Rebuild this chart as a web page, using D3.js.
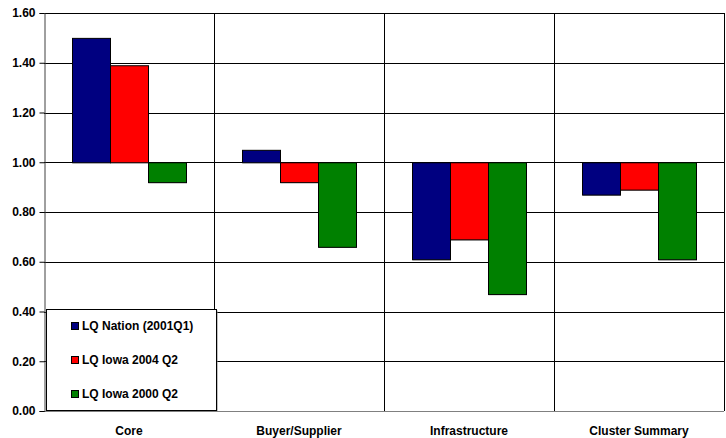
<!DOCTYPE html>
<html>
<head>
<meta charset="utf-8">
<script src="https://cdn.jsdelivr.net/npm/d3@7"></script>
<style>
  html, body { margin: 0; padding: 0; background: #fff; }
  svg text { font-family: Arial, "Liberation Sans", sans-serif; font-weight: bold; }
</style>
</head>
<body>
<svg id="chart" width="726" height="438"></svg>
<script>
// Location quotients by cluster segment
const categories = ["Core", "Buyer/Supplier", "Infrastructure", "Cluster Summary"];
const seriesNames = ["LQ Nation (2001Q1)", "LQ Iowa 2004 Q2", "LQ Iowa 2000 Q2"];
const seriesColors = ["#000080", "#FF0000", "#008000"];
const lqNation2001 = [1.50, 1.05, 0.61, 0.87];
const lqIowa2004 = [1.39, 0.92, 0.69, 0.89];
const lqIowa2000 = [0.92, 0.66, 0.47, 0.61];
const yTicks = [0, 0.2, 0.4, 0.6, 0.8, 1.0, 1.2, 1.4, 1.6];
const baseline = 1.0;

const series = [lqNation2001, lqIowa2004, lqIowa2000];

const svg = d3.select("#chart");
const plot = { left: 44, right: 724, top: 13, bottom: 411 };

const x = d3.scaleBand().domain(categories).range([plot.left, plot.right]).paddingInner(0).paddingOuter(0);
const y = d3.scaleLinear().domain([0, 1.6]).range([plot.bottom, plot.top]);
const barW = 38;
const xs = d3.scaleBand().domain(d3.range(series.length)).range([0, barW * series.length]);
const groupOffset = (x.bandwidth() - barW * series.length) / 2;

// horizontal gridlines
svg.append("g").selectAll("line").data(yTicks).join("line")
  .attr("x1", plot.left).attr("x2", plot.right)
  .attr("y1", d => Math.round(y(d)) + 0.5).attr("y2", d => Math.round(y(d)) + 0.5)
  .attr("stroke", d => d === 0 ? "#808080" : "#000").attr("stroke-width", 1);

// vertical category dividers
svg.append("g").selectAll("line").data(categories).join("line")
  .attr("x1", d => Math.round(x(d) + x.bandwidth()) + 0.5)
  .attr("x2", d => Math.round(x(d) + x.bandwidth()) + 0.5)
  .attr("y1", plot.top).attr("y2", plot.bottom)
  .attr("stroke", "#000").attr("stroke-width", 1);

// y axis
const yAxis = d3.axisLeft(y).tickValues(yTicks).tickFormat(d3.format(".2f")).tickSize(5).tickPadding(4);
const ya = svg.append("g").attr("transform", `translate(${plot.left + 0.5},0)`).call(yAxis);
ya.select(".domain").attr("stroke", "#404040");
ya.selectAll(".tick line").attr("stroke", "#000");
ya.selectAll(".tick text").attr("font-size", "12px").attr("fill", "#000")
  .style("font-family", "Arial, 'Liberation Sans', sans-serif").style("font-weight", "bold");

// bars measured from the 1.00 baseline
const bars = [];
categories.forEach((c, ci) => {
  series.forEach((s, si) => {
    bars.push({ cat: c, si, v: s[ci] });
  });
});

const barG = svg.append("g");
// soft shadow
barG.selectAll("rect.shadow").data(bars).join("rect").attr("class", "shadow")
  .attr("x", d => x(d.cat) + groupOffset + xs(d.si) + 1)
  .attr("y", d => Math.min(y(d.v), y(baseline)) + 1)
  .attr("width", barW)
  .attr("height", d => Math.abs(y(d.v) - y(baseline)))
  .attr("fill", "#9a9a9a");
barG.selectAll("rect.bar").data(bars).join("rect").attr("class", "bar")
  .attr("x", d => x(d.cat) + groupOffset + xs(d.si) + 0.5)
  .attr("y", d => Math.min(y(d.v), y(baseline)) + 0.5)
  .attr("width", barW)
  .attr("height", d => Math.abs(y(d.v) - y(baseline)))
  .attr("fill", d => seriesColors[d.si])
  .attr("stroke", "#000").attr("stroke-width", 1);

// category labels
svg.append("g").selectAll("text").data(categories).join("text")
  .attr("x", d => x(d) + x.bandwidth() / 2)
  .attr("y", 435)
  .attr("text-anchor", "middle")
  .attr("font-size", "12px")
  .text(d => d);

// legend
const leg = svg.append("g");
leg.append("rect").attr("x", 47.5).attr("y", 310.5).attr("width", 170).attr("height", 101)
  .attr("fill", "#808080");
leg.append("rect").attr("x", 46.5).attr("y", 309.5).attr("width", 170).attr("height", 101)
  .attr("fill", "#fff").attr("stroke", "#000").attr("stroke-width", 1);
const legY = [326, 360, 394];
seriesNames.forEach((n, i) => {
  leg.append("rect").attr("x", 71.5).attr("y", legY[i] - 3.5).attr("width", 7).attr("height", 7)
    .attr("fill", seriesColors[i]).attr("stroke", "#000").attr("stroke-width", 1);
  leg.append("text").attr("x", 82).attr("y", legY[i] + 4).attr("font-size", "12px").text(n);
});
</script>
</body>
</html>
